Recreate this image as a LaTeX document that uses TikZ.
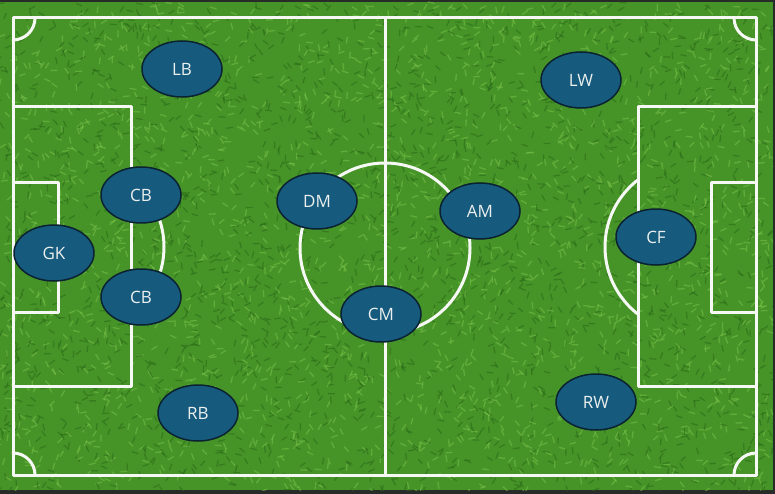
\documentclass[tikz,border=0pt]{standalone}
\usepackage{fontspec}
\setsansfont{Open Sans}
\usetikzlibrary{shapes.geometric}
\definecolor{grass}{RGB}{70,148,40}
\definecolor{grassdark}{RGB}{42,106,24}
\definecolor{grasslight}{RGB}{120,192,72}
\definecolor{frame}{RGB}{40,44,40}
\definecolor{shirt}{RGB}{22,90,126}
\definecolor{shirtline}{RGB}{10,34,50}
\definecolor{chalk}{RGB}{246,248,244}
\begin{document}
\begin{tikzpicture}[line cap=round,line join=round,x=1pt,y=-1pt,
  pitchline/.style={color=chalk,line width=3pt},
  player/.style={ellipse,draw=shirtline,line width=1.5pt,fill=shirt,
    minimum width=80pt,minimum height=56pt,inner sep=0pt,
    text=chalk!95!shirt,font=\sffamily\fontsize{17}{20}\selectfont}]
\useasboundingbox (0,0) rectangle (775,494);
\fill[frame] (0,0) rectangle (775,494);
\fill[grass] (0,2) rectangle (773,490);
% grass texture
\pgfmathsetseed{11}
\begin{scope}
\clip (0,2) rectangle (773,490);
\foreach \i in {1,...,2200}{
\pgfmathsetmacro\gx{rnd*773}
\pgfmathsetmacro\gy{2+rnd*488}
\pgfmathsetmacro\ga{rnd*180}
\draw[grassdark,line width=1.3pt,opacity=0.55] (\gx,\gy) -- ++(\ga:6);
\pgfmathsetmacro\hx{rnd*773}
\pgfmathsetmacro\hy{2+rnd*488}
\pgfmathsetmacro\ha{rnd*180}
\draw[grasslight,line width=1.3pt,opacity=0.55] (\hx,\hy) -- ++(\ha:6);
}
\end{scope}
% pitch
\draw[pitchline] (13,18) rectangle (756,475);
\draw[pitchline] (385,18) -- (385,475);
\draw[pitchline] (385,248) circle (85);
\draw[pitchline] (13,107) rectangle (131,386);
\draw[pitchline] (13,183) rectangle (58,312);
\draw[pitchline] (638,107) rectangle (756,386);
\draw[pitchline] (711,183) rectangle (756,312);
\begin{scope}
\clip (131,0) rectangle (250,494);
\draw[pitchline] (79,247) circle (85);
\end{scope}
\begin{scope}
\clip (520,0) rectangle (638,494);
\draw[pitchline] (690,247) circle (85);
\end{scope}
% corners
\draw[pitchline] (35,18) arc (0:90:22);
\draw[pitchline] (734,18) arc (180:90:22);
\draw[pitchline] (13,453) arc (270:360:22);
\draw[pitchline] (734,475) arc (180:270:22);
% players
\node (lb) [player] at (182,69) {LB};
\node (lw) [player] at (581,80) {LW};
\node (cbtop) [player] at (141,195) {CB};
\node (dm) [player] at (317,201) {DM};
\node (am) [player] at (480,211) {AM};
\node (gk) [player] at (54,253) {GK};
\node (cf) [player] at (656,237) {CF};
\node (cbbot) [player] at (141,297) {CB};
\node (cm) [player] at (381,314) {CM};
\node (rb) [player] at (198,413) {RB};
\node (rw) [player] at (596,402) {RW};
\end{tikzpicture}
\end{document}
